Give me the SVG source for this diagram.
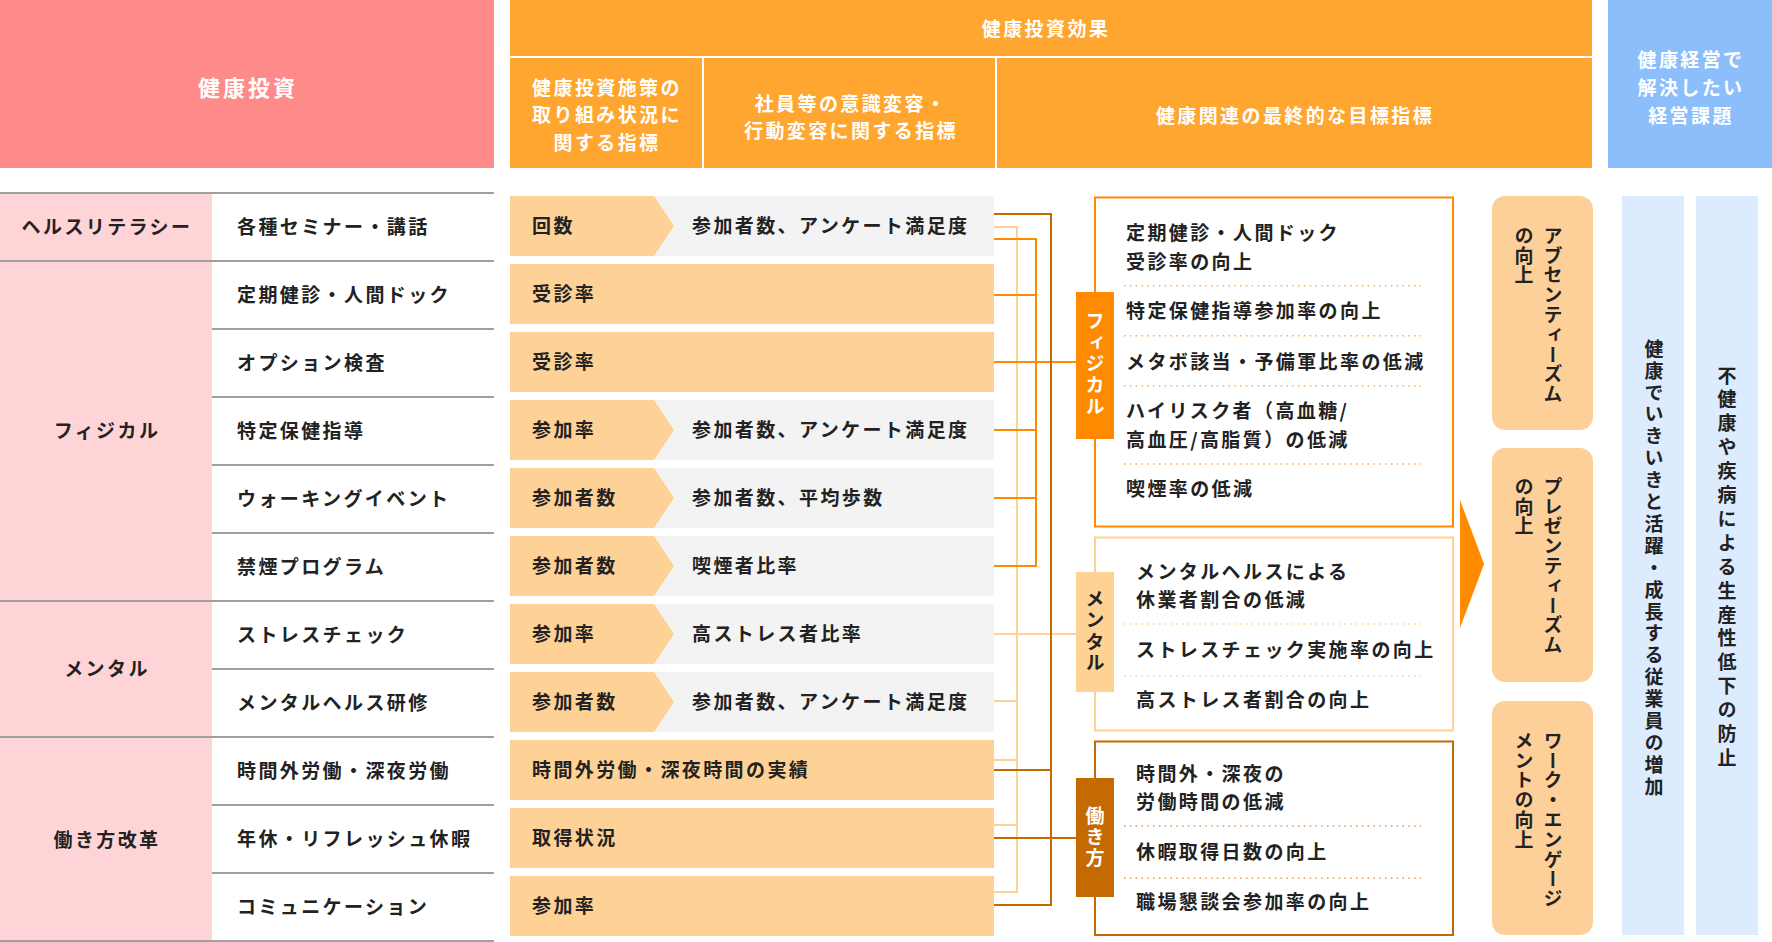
<svg xmlns="http://www.w3.org/2000/svg" xmlns:xlink="http://www.w3.org/1999/xlink" width="1772" height="942" viewBox="0 0 1772 942">
<style>
.t{font-family:"Noto Sans CJK JP","Noto Sans",sans-serif;font-weight:700;font-size:19px;letter-spacing:2.4px;fill:#222;dominant-baseline:central}
.w{fill:#fff}
.c{text-anchor:middle}
.v{writing-mode:vertical-rl}
.big{font-size:22px;letter-spacing:3px}
.sep{stroke:#a0a0a0;stroke-width:2}
.dot{fill:none;stroke-width:1.6;stroke-dasharray:1.6 4.2}
</style>
<defs>
<rect id="bar" x="510" y="0" width="484" height="60" fill="#fed296"/>
<rect id="gbar" x="510" y="0" width="484" height="60" fill="#f3f3f3"/>
<path id="chev" d="M510 0H654L674 30L654 60H510Z" fill="#fed296"/>
</defs>
<rect width="1772" height="942" fill="#fff"/>

<g id="header-invest">
<rect x="0" y="0" width="494" height="168" fill="#ff8a8a"/>
<text class="t w c big" x="248" y="86">健康投資</text>
</g>
<g id="header-effect">
<rect x="510" y="0" width="1082" height="56" fill="#ffa630"/>
<text class="t w c" x="1046" y="27.5">健康投資効果</text>
<rect x="510" y="58" width="192" height="110" fill="#ffa630"/>
<text class="t w c" x="607" y="86">健康投資施策の</text>
<text class="t w c" x="607" y="113.8">取り組み状況に</text>
<text class="t w c" x="607" y="141.3">関する指標</text>
<rect x="704" y="58" width="291" height="110" fill="#ffa630"/>
<text class="t w c" x="851" y="102">社員等の意識変容・</text>
<text class="t w c" x="851" y="129.5">行動変容に関する指標</text>
<rect x="997" y="58" width="595" height="110" fill="#ffa630"/>
<text class="t w c" x="1295" y="114">健康関連の最終的な目標指標</text>
</g>
<g id="header-issue">
<rect x="1608" y="0" width="164" height="168" fill="#8bbefb"/>
<text class="t w c" x="1691" y="58">健康経営で</text>
<text class="t w c" x="1691" y="86">解決したい</text>
<text class="t w c" x="1691" y="114">経営課題</text>
</g>

<g id="categories">
<rect x="0" y="194" width="212" height="66" fill="#ffd4d7"/>
<rect x="0" y="262" width="212" height="338" fill="#ffd4d7"/>
<rect x="0" y="602" width="212" height="134" fill="#ffd4d7"/>
<rect x="0" y="738" width="212" height="202" fill="#ffd4d7"/>
<text class="t c" x="107" y="225.5">ヘルスリテラシー</text>
<text class="t c" x="107" y="429.5">フィジカル</text>
<text class="t c" x="107" y="667.5">メンタル</text>
<text class="t c" x="107" y="838">働き方改革</text>
</g>
<g id="table-lines">
<path class="sep" d="M0 193H494M0 261H494M212 329H494M212 397H494M212 465H494M212 533H494M0 601H494M212 669H494M0 737H494M212 805H494M212 873H494M0 941H494"/>
</g>
<g id="measures">
<text class="t" x="237" y="225.5">各種セミナー・講話</text>
<text class="t" x="237" y="293.5">定期健診・人間ドック</text>
<text class="t" x="237" y="361.5">オプション検査</text>
<text class="t" x="237" y="429.5">特定保健指導</text>
<text class="t" x="237" y="497.5">ウォーキングイベント</text>
<text class="t" x="237" y="565.5">禁煙プログラム</text>
<text class="t" x="237" y="633.5">ストレスチェック</text>
<text class="t" x="237" y="701.5">メンタルヘルス研修</text>
<text class="t" x="237" y="769.5">時間外労働・深夜労働</text>
<text class="t" x="237" y="837.5">年休・リフレッシュ休暇</text>
<text class="t" x="237" y="905.5">コミュニケーション</text>
</g>

<g id="indicators">
<g id="ind1"><use xlink:href="#gbar" y="196"/><use xlink:href="#chev" y="196"/><text class="t" x="532" y="224.5">回数</text><text class="t" x="692" y="224.5">参加者数、アンケート満足度</text></g>
<g id="ind2"><use xlink:href="#bar" y="264"/><text class="t" x="532" y="292.5">受診率</text></g>
<g id="ind3"><use xlink:href="#bar" y="332"/><text class="t" x="532" y="360.5">受診率</text></g>
<g id="ind4"><use xlink:href="#gbar" y="400"/><use xlink:href="#chev" y="400"/><text class="t" x="532" y="428.5">参加率</text><text class="t" x="692" y="428.5">参加者数、アンケート満足度</text></g>
<g id="ind5"><use xlink:href="#gbar" y="468"/><use xlink:href="#chev" y="468"/><text class="t" x="532" y="496.5">参加者数</text><text class="t" x="692" y="496.5">参加者数、平均歩数</text></g>
<g id="ind6"><use xlink:href="#gbar" y="536"/><use xlink:href="#chev" y="536"/><text class="t" x="532" y="564.5">参加者数</text><text class="t" x="692" y="564.5">喫煙者比率</text></g>
<g id="ind7"><use xlink:href="#gbar" y="604"/><use xlink:href="#chev" y="604"/><text class="t" x="532" y="632.5">参加率</text><text class="t" x="692" y="632.5">高ストレス者比率</text></g>
<g id="ind8"><use xlink:href="#gbar" y="672"/><use xlink:href="#chev" y="672"/><text class="t" x="532" y="700.5">参加者数</text><text class="t" x="692" y="700.5">参加者数、アンケート満足度</text></g>
<g id="ind9"><use xlink:href="#bar" y="740"/><text class="t" x="532" y="768.5">時間外労働・深夜時間の実績</text></g>
<g id="ind10"><use xlink:href="#bar" y="808"/><text class="t" x="532" y="836.5">取得状況</text></g>
<g id="ind11"><use xlink:href="#bar" y="876"/><text class="t" x="532" y="904.5">参加率</text></g>
</g>

<g id="connectors" fill="none" stroke-width="2">
<path stroke="#fed294" d="M994 227H1017M994 634H1076M994 701H1017M994 760H1017M994 825H1017M994 892H1017M1017 226V893"/>
<path stroke="#ff8a00" d="M994 239H1036M994 295H1036M994 362H1076M994 430H1036M994 498H1036M994 566H1036M1036 238V567"/>
<path stroke="#c46a00" d="M994 214H1051M994 770H1051M994 838H1076M994 905H1051M1051 213V906"/>
</g>

<g id="goal-physical">
<rect x="1095" y="197.5" width="358" height="329" fill="#fff" stroke="#ff8a00" stroke-width="2"/>
<path class="dot" stroke="#ffb060" d="M1124 285.7H1421M1124 335.7H1421M1124 385.7H1421M1124 464H1421"/>
<text class="t" x="1126" y="231.5">定期健診・人間ドック</text>
<text class="t" x="1126" y="260">受診率の向上</text>
<text class="t" x="1126" y="309.5">特定保健指導参加率の向上</text>
<text class="t" x="1126" y="360">メタボ該当・予備軍比率の低減</text>
<text class="t" x="1126" y="409.5">ハイリスク者（高血糖/</text>
<text class="t" x="1126" y="438">高血圧/高脂質）の低減</text>
<text class="t" x="1126" y="487">喫煙率の低減</text>
<rect x="1076" y="292" width="38" height="147" fill="#ff8a00"/>
<text class="t w c v" x="1095" y="365">フィジカル</text>
</g>
<g id="goal-mental">
<rect x="1095" y="537.5" width="358" height="193" fill="#fff" stroke="#fed294" stroke-width="2"/>
<path class="dot" stroke="#fed294" d="M1124 624H1421M1124 675.7H1421"/>
<text class="t" x="1136" y="570">メンタルヘルスによる</text>
<text class="t" x="1136" y="598.5">休業者割合の低減</text>
<text class="t" x="1136" y="648.5">ストレスチェック実施率の向上</text>
<text class="t" x="1136" y="698">高ストレス者割合の向上</text>
<rect x="1076" y="572" width="38" height="120" fill="#fed294"/>
<text class="t c v" x="1095" y="632">メンタル</text>
</g>
<g id="goal-work">
<rect x="1095" y="741.5" width="358" height="193.5" fill="#fff" stroke="#c46a00" stroke-width="2"/>
<path class="dot" stroke="#dda060" d="M1124 826H1421M1124 878.3H1421"/>
<text class="t" x="1136" y="772.5">時間外・深夜の</text>
<text class="t" x="1136" y="800.5">労働時間の低減</text>
<text class="t" x="1136" y="850.5">休暇取得日数の向上</text>
<text class="t" x="1136" y="900">職場懇談会参加率の向上</text>
<rect x="1076" y="778" width="38" height="119" fill="#c46a00"/>
<text class="t w c v" x="1095" y="838">働き方</text>
</g>

<g id="arrow">
<polygon points="1460,500 1484,564 1460,628" fill="#ff8a00"/>
</g>

<g id="outcome-absenteeism">
<rect x="1492" y="196" width="101" height="234" rx="13" fill="#fdd09a"/>
<text class="t v" style="letter-spacing:0.8px" x="1553" y="226">アブセンティーズム</text>
<text class="t v" style="letter-spacing:0.8px" x="1524" y="226">の向上</text>
</g>
<g id="outcome-presenteeism">
<rect x="1492" y="448" width="101" height="234" rx="13" fill="#fdd09a"/>
<text class="t v" style="letter-spacing:0.8px" x="1553" y="477">プレゼンティーズム</text>
<text class="t v" style="letter-spacing:0.8px" x="1524" y="477">の向上</text>
</g>
<g id="outcome-engagement">
<rect x="1492" y="701" width="101" height="234" rx="13" fill="#fdd09a"/>
<text class="t v" style="letter-spacing:0.8px" x="1553" y="731">ワーク・エンゲージ</text>
<text class="t v" style="letter-spacing:0.8px" x="1524" y="731">メントの向上</text>
</g>

<g id="issue-growth">
<rect x="1622" y="196" width="62" height="739" fill="#dcebfd"/>
<text class="t c v" style="letter-spacing:2.9px" x="1654" y="569">健康でいきいきと活躍・成長する従業員の増加</text>
</g>
<g id="issue-productivity">
<rect x="1696" y="196" width="62" height="739" fill="#dcebfd"/>
<text class="t c v" style="letter-spacing:4.9px" x="1727" y="569">不健康や疾病による生産性低下の防止</text>
</g>
</svg>
